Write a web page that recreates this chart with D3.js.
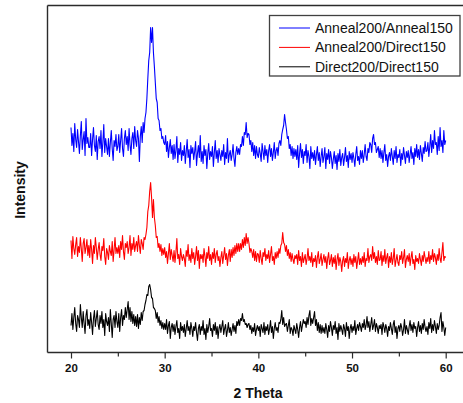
<!DOCTYPE html>
<html>
<head>
<meta charset="utf-8">
<script src="https://cdn.jsdelivr.net/npm/d3@7"></script>
<style>
  body { margin: 0; background: #fff; }
  svg { display: block; }
</style>
</head>
<body>
<svg id="chart" width="463" height="403"></svg>
<script>
// XRD patterns, sampled every 0.1 degree of 2θ from 20 to 60
const thetaStart = 20;
const thetaStep = 0.1;

const seriesNames = ["Anneal200/Anneal150", "Anneal200/Direct150", "Direct200/Direct150"];
// vertical stacking offset for each pattern (a.u.)
const seriesOffsets = [170, 75, 0];

const anneal200Anneal150 = [
  55,37,49,31,59,43,35,53,41,29,
  47,61,33,43,51,27,64,39,45,35,
  35,49,27,43,55,37,31,47,23,41,
  46,34,52,26,40,58,30,44,36,28,
  44,26,40,52,34,22,42,36,48,32,
  36,48,30,42,54,34,26,44,52,38,
  46,32,54,38,28,44,50,34,56,42,
  36,52,44,21,46,56,40,60,50,64,
  70,84,104,122,130,155,140,155,130,116,
  100,84,80,64,62,52,54,44,46,40,
  38,47,31,41,25,35,43,29,37,23,
  38,24,32,46,20,34,28,40,22,32,
  27,37,19,31,43,25,33,15,37,29,
  35,23,31,41,17,29,37,25,47,21,
  31,19,37,27,33,14,29,39,23,31,
  26,36,16,30,42,24,32,20,34,28,
  22,32,26,38,18,30,24,44,20,28,
  32,22,28,38,24,16,30,36,28,34,
  28,38,36,46,37,50,48,60,45,49,
  48,38,42,31,40,27,37,24,36,28,
  25,35,29,21,39,31,23,37,27,33,
  20,32,38,26,34,22,30,40,24,32,
  35,27,39,42,37,48,53,57,68,60,
  53,44,46,34,38,27,36,24,34,26,
  33,23,37,15,29,39,25,33,19,31,
  27,38,20,32,26,14,36,24,30,22,
  32,18,28,36,22,30,16,26,34,20,
  26,35,14,29,23,33,19,31,25,14,
  23,31,19,27,13,29,21,33,17,25,
  29,17,25,35,21,27,15,31,23,29,
  20,30,24,16,28,36,22,26,18,32,
  24,32,20,28,38,26,22,34,30,40,
  38,30,44,48,38,40,30,33,36,25,
  34,24,32,20,30,38,22,28,16,26,
  30,22,34,26,18,32,24,36,20,28,
  25,33,17,29,23,35,27,19,31,25,
  32,20,28,36,24,30,18,34,26,38,
  25,33,23,37,29,21,35,29,41,31,
  32,40,26,36,48,30,42,34,52,38,
  40,28,46,32,55,36,42,30,52,38,
  42
];

const anneal200Direct150 = [
  37,19,41,29,23,33,40,21,31,25,
  40,29,16,34,39,24,30,38,22,32,
  20,38,28,14,32,24,40,30,18,28,
  35,23,17,31,27,39,21,13,29,25,
  18,32,26,22,36,16,28,40,24,30,
  24,32,20,36,28,42,26,18,34,30,
  36,24,30,42,22,34,28,40,26,32,
  36,26,42,32,24,38,34,28,40,38,
  43,50,66,72,86,95,80,60,78,60,
  52,40,41,30,34,26,33,22,29,23,
  30,20,26,14,24,34,18,28,22,16,
  27,15,25,39,19,23,13,29,21,17,
  23,19,11,27,21,33,17,23,15,29,
  19,25,13,21,31,17,27,9,23,19,
  23,15,29,21,11,25,19,31,17,23,
  13,25,19,29,15,23,27,17,21,11,
  20,26,14,22,30,18,24,12,22,28,
  16,28,20,30,22,32,24,34,26,34,
  26,34,28,38,30,40,32,44,34,40,
  34,25,29,26,20,28,17,26,16,24,
  23,15,27,19,13,25,21,29,17,23,
  19,27,15,23,31,17,21,13,25,19,
  26,20,29,24,32,34,45,35,33,26,
  32,22,28,19,25,16,24,18,14,22,
  19,23,13,27,17,21,11,25,15,19,
  23,13,19,29,17,21,15,25,11,19,
  16,22,10,20,26,14,18,24,12,18,
  23,15,21,9,19,25,13,17,23,11,
  20,14,22,8,18,24,12,20,16,6,
  17,21,11,19,15,25,9,17,21,13,
  19,11,23,15,21,9,17,25,13,19,
  13,21,15,25,11,19,17,29,15,21,
  23,17,31,19,25,15,21,13,27,17,
  18,26,12,22,16,28,14,20,24,10,
  21,15,25,13,19,29,11,17,23,15,
  12,22,18,26,14,20,28,10,18,22,
  16,24,12,20,26,14,18,8,22,16,
  19,14,24,18,12,22,16,26,20,14,
  20,16,26,14,22,18,28,16,24,20,
  13,23,17,29,19,15,25,35,17,21,
  20
];

const direct200Direct150 = [
  27,39,23,35,45,29,21,37,33,25,
  48,35,25,41,29,19,37,43,27,33,
  24,40,30,18,34,42,26,34,42,28,
  23,37,29,41,25,33,17,39,31,27,
  35,21,43,29,15,33,37,25,41,31,
  25,39,21,35,43,27,37,33,45,35,
  43,51,33,45,31,41,29,38,27,36,
  26,38,24,35,28,40,32,41,42,48,
  52,58,57,66,68,63,55,54,45,44,
  42,34,40,30,36,27,32,24,30,23,
  29,23,33,19,27,31,14,25,29,21,
  28,18,26,32,20,24,14,30,22,26,
  20,28,16,24,32,22,26,18,30,24,
  16,26,22,30,20,12,24,28,18,26,
  22,32,18,24,13,28,20,26,34,22,
  24,16,28,22,30,18,26,14,24,28,
  20,26,32,18,24,28,16,22,30,20,
  25,17,23,29,21,27,19,31,27,33,
  27,34,32,39,31,33,28,29,25,28,
  29,23,27,19,25,21,29,17,23,27,
  22,26,16,28,24,20,30,18,26,22,
  28,18,24,32,20,26,14,24,30,22,
  25,20,30,29,33,42,28,35,26,28,
  29,21,27,33,19,25,23,17,27,23,
  19,29,23,15,25,31,21,27,33,29,
  31,25,35,28,37,42,27,34,29,35,
  41,27,33,22,30,20,28,19,27,20,
  25,19,29,23,15,27,21,31,25,17,
  27,23,31,19,25,13,29,21,27,23,
  18,28,24,16,30,22,26,14,24,28,
  20,26,22,32,18,24,28,22,30,26,
  21,29,25,33,23,27,36,25,31,21,
  28,35,23,27,33,21,29,25,19,27,
  24,28,18,30,26,20,28,24,16,26,
  22,30,24,18,28,32,20,26,14,24,
  27,21,29,25,17,23,33,19,27,23,
  18,26,32,22,28,20,30,24,26,16,
  25,31,21,27,19,29,23,33,25,21,
  26,18,30,24,34,20,28,22,32,26,
  19,29,23,27,35,40,21,31,25,17,
  25
];

const seriesValues = [anneal200Anneal150, anneal200Direct150, direct200Direct150];
const seriesColors = ["#0000ff", "#ff0000", "#000000"];

const xMajorTicks = [20, 30, 40, 50, 60];
const xMinorTicks = [25, 35, 45, 55];
const xLabel = "2 Theta";
const yLabel = "Intensity";

// layout
const W = 463, H = 403;
const frameLeft = 47.5, frameTop = 5.5, frameBottom = 352.5;
const svg = d3.select("#chart");

const x = d3.scaleLinear().domain([20, 60]).range([71, 445.7]);
const y = d3.scaleLinear().domain([0, 347]).range([frameBottom, frameTop]);

// patterns
const line = d3.line()
  .x(d => x(d.theta))
  .y(d => y(d.value));

const order = [2, 1, 0];
order.forEach(k => {
  const pts = seriesValues[k].map((v, i) => ({
    theta: thetaStart + i * thetaStep,
    value: v + seriesOffsets[k]
  }));
  svg.append("path")
    .datum(pts)
    .attr("fill", "none")
    .attr("stroke", seriesColors[k])
    .attr("stroke-width", 1.1)
    .attr("stroke-linejoin", "round")
    .attr("d", line);
});

// frame: left spine, top line and bottom axis line run to the right edge
const frameColor = "#2b2b2b";
svg.append("line").attr("x1", frameLeft).attr("x2", frameLeft)
  .attr("y1", frameTop).attr("y2", frameBottom)
  .attr("stroke", frameColor).attr("stroke-width", 1.4);
svg.append("line").attr("x1", frameLeft).attr("x2", W)
  .attr("y1", frameTop).attr("y2", frameTop)
  .attr("stroke", frameColor).attr("stroke-width", 1.4);
svg.append("line").attr("x1", frameLeft).attr("x2", W)
  .attr("y1", frameBottom).attr("y2", frameBottom)
  .attr("stroke", frameColor).attr("stroke-width", 1.4);

// x axis ticks
const majorAxis = d3.axisBottom(x).tickValues(xMajorTicks).tickSize(6).tickPadding(5)
  .tickFormat(d3.format("d"));
const gMajor = svg.append("g").attr("transform", `translate(0,${frameBottom})`).call(majorAxis);
gMajor.select(".domain").remove();
gMajor.selectAll(".tick line").attr("stroke", frameColor).attr("stroke-width", 1.2);
gMajor.selectAll(".tick text")
  .attr("fill", "#111")
  .style("font-family", "'Liberation Sans', Arial, sans-serif")
  .style("font-weight", "bold")
  .style("font-size", "11.5px");

const minorAxis = d3.axisBottom(x).tickValues(xMinorTicks).tickSize(4).tickFormat("");
const gMinor = svg.append("g").attr("transform", `translate(0,${frameBottom})`).call(minorAxis);
gMinor.select(".domain").remove();
gMinor.selectAll(".tick line").attr("stroke", frameColor).attr("stroke-width", 1.2);

// axis titles
svg.append("text")
  .attr("x", 258).attr("y", 398)
  .attr("text-anchor", "middle")
  .style("font-family", "'Liberation Sans', Arial, sans-serif")
  .style("font-weight", "bold")
  .style("font-size", "14px")
  .attr("fill", "#111")
  .text(xLabel);

svg.append("text")
  .attr("transform", "translate(25,190) rotate(-90)")
  .attr("text-anchor", "middle")
  .style("font-family", "'Liberation Sans', Arial, sans-serif")
  .style("font-weight", "bold")
  .style("font-size", "14px")
  .attr("fill", "#111")
  .text(yLabel);

// legend
const legend = svg.append("g");
legend.append("rect")
  .attr("x", 269.5).attr("y", 15.5).attr("width", 190.5).attr("height", 60.5)
  .attr("fill", "#fff").attr("stroke", "#404040").attr("stroke-width", 1.3);
seriesNames.forEach((name, i) => {
  const cy = 28 + i * 19.4;
  legend.append("line")
    .attr("x1", 279).attr("x2", 310).attr("y1", cy).attr("y2", cy)
    .attr("stroke", seriesColors[i]).attr("stroke-width", 1);
  legend.append("text")
    .attr("x", 315).attr("y", cy + 5)
    .style("font-family", "'Liberation Sans', Arial, sans-serif")
    .style("font-size", "14px")
    .attr("fill", "#111")
    .text(name);
});
</script>
</body>
</html>
